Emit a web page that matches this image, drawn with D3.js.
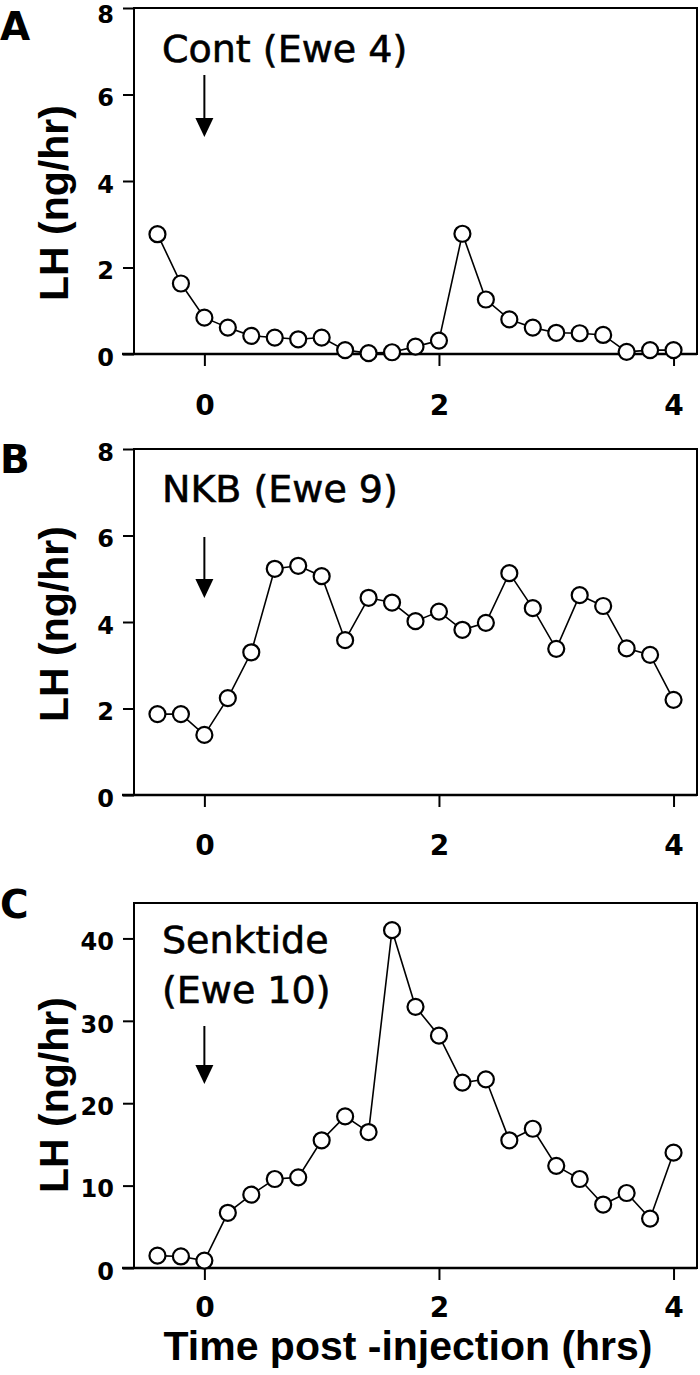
<!DOCTYPE html>
<html>
<head>
<meta charset="utf-8">
<script src="https://cdn.jsdelivr.net/npm/d3@7"></script>
<style>
  body { margin: 0; background: #fff; }
  svg { display: block; }
</style>
</head>
<body>
<svg id="chart"></svg>
<script>
// sampling times (hrs after injection)
const hours = [-0.4, -0.2, 0, 0.2, 0.4, 0.6, 0.8, 1.0, 1.2, 1.4, 1.6, 1.8,
               2.0, 2.2, 2.4, 2.6, 2.8, 3.0, 3.2, 3.4, 3.6, 3.8, 4.0];

// LH (ng/hr) per sample
const contLH = [2.77, 1.63, 0.84, 0.61, 0.42, 0.38, 0.34, 0.38, 0.09, 0.02, 0.04, 0.17,
                0.31, 2.78, 1.26, 0.80, 0.61, 0.49, 0.48, 0.44, 0.05, 0.09, 0.09];
const nkbLH = [1.87, 1.87, 1.39, 2.24, 3.30, 5.23, 5.30, 5.06, 3.58, 4.56, 4.45, 4.02,
               4.24, 3.82, 3.98, 5.13, 4.32, 3.38, 4.62, 4.37, 3.39, 3.24, 2.20];
const senktideLH = [1.5, 1.4, 0.9, 6.7, 8.9, 10.8, 11.0, 15.5, 18.4, 16.5, 41.0, 31.7,
                    28.2, 22.5, 22.9, 15.5, 16.9, 12.4, 10.8, 7.7, 9.1, 6.0, 14.0];

const xTicks = [0, 2, 4];
const yTicksLow = [0, 2, 4, 6, 8];
const yTicksHigh = [0, 10, 20, 30, 40];
const panelLetters = ["A", "B", "C"];
const treatmentLabels = [["Cont (Ewe 4)"], ["NKB (Ewe 9)"], ["Senktide", "(Ewe 10)"]];
const yTitle = "LH (ng/hr)";
const xTitle = "Time post -injection (hrs)";

const width = 700, height = 1375;
const left = 134, right = 697;

const svg = d3.select("#chart").attr("width", width).attr("height", height);

const x = d3.scaleLinear().domain([-0.6, 4.2]).range([left, right]);

// layout of the three stacked panels
const panels = [
  { values: contLH, yTicks: yTicksLow, yMax: 8, top: 8, bottom: 354,
    letterY: 40, labelY: [62], arrowY: [75, 137], tickLabelY: 405, titleY: 203 },
  { values: nkbLH, yTicks: yTicksLow, yMax: 8, top: 449, bottom: 795,
    letterY: 473, labelY: [502], arrowY: [537, 598], tickLabelY: 845, titleY: 624 },
  { values: senktideLH, yTicks: yTicksHigh, yMax: 44.3, top: 903, bottom: 1268,
    letterY: 918, labelY: [953, 1003], arrowY: [1026, 1084], tickLabelY: 1307, titleY: 1095 }
];

const boldFont = "'Liberation Sans', Arial, sans-serif";
const tickFont = "'DejaVu Sans', sans-serif";

panels.forEach((p, k) => {
  const y = d3.scaleLinear().domain([0, p.yMax]).range([p.bottom, p.top]);
  const g = svg.append("g");

  // box
  g.append("rect")
    .attr("x", left).attr("y", p.top)
    .attr("width", right - left).attr("height", p.bottom - p.top)
    .attr("fill", "none").attr("stroke", "#000").attr("stroke-width", 2);

  // bottom axis line runs a bit past the box on the left
  g.append("line")
    .attr("x1", left - 12).attr("x2", right)
    .attr("y1", p.bottom).attr("y2", p.bottom)
    .attr("stroke", "#000").attr("stroke-width", 2.5);

  // y axis
  const yAxis = g.append("g")
    .attr("transform", `translate(${left},0)`)
    .call(d3.axisLeft(y).tickValues(p.yTicks).tickSize(11).tickPadding(9).tickFormat(d3.format("d")));
  yAxis.select(".domain").remove();
  yAxis.selectAll("line").attr("stroke", "#000").attr("stroke-width", 2);
  yAxis.selectAll("text")
    // keep the topmost label inside the page
    .attr("dy", d => y(d) < 20 ? "0.62em" : "0.47em")
    .style("font-family", tickFont)
    .style("font-weight", "bold")
    .style("font-size", "24px")
    .attr("fill", "#000");

  // x axis
  const xAxis = g.append("g")
    .attr("transform", `translate(0,${p.bottom})`)
    .call(d3.axisBottom(x).tickValues(xTicks).tickSize(12).tickFormat(d3.format("d")));
  xAxis.select(".domain").remove();
  xAxis.selectAll("line").attr("stroke", "#000").attr("stroke-width", 2);
  xAxis.selectAll("text")
    .attr("y", p.tickLabelY - p.bottom)
    .attr("dy", "0.36em")
    .style("font-family", tickFont)
    .style("font-weight", "bold")
    .style("font-size", "28px")
    .attr("fill", "#000");

  // y title
  g.append("text")
    .attr("transform", `translate(68,${p.titleY}) rotate(-90)`)
    .attr("text-anchor", "middle")
    .style("font-family", boldFont)
    .style("font-weight", "bold")
    .style("font-size", "41px")
    .text(yTitle);

  // panel letter
  g.append("text")
    .attr("x", 0).attr("y", p.letterY)
    .style("font-family", tickFont)
    .style("font-weight", "bold")
    .style("font-size", "39px")
    .text(panelLetters[k]);

  // treatment label
  treatmentLabels[k].forEach((t, i) => {
    g.append("text")
      .attr("x", 162).attr("y", p.labelY[i])
      .style("font-family", tickFont)
      .style("font-size", "38px")
      .attr("stroke", "#000")
      .attr("stroke-width", 0.6)
      .text(t);
  });

  // injection arrow
  const ax = x(0);
  const headH = 19, headW = 9;
  g.append("line")
    .attr("x1", ax).attr("x2", ax)
    .attr("y1", p.arrowY[0]).attr("y2", p.arrowY[1] - headH + 2)
    .attr("stroke", "#000").attr("stroke-width", 2);
  g.append("path")
    .attr("d", `M${ax - headW},${p.arrowY[1] - headH}L${ax + headW},${p.arrowY[1] - headH}L${ax},${p.arrowY[1]}Z`)
    .attr("fill", "#000");

  // series
  const pts = hours.map((h, i) => ({ h, v: p.values[i] }));
  g.append("path")
    .datum(pts)
    .attr("fill", "none")
    .attr("stroke", "#000")
    .attr("stroke-width", 1.6)
    .attr("d", d3.line().x(d => x(d.h)).y(d => y(d.v)));

  g.selectAll(".pt")
    .data(pts)
    .enter()
    .append("circle")
    .attr("class", "pt")
    .attr("cx", d => x(d.h))
    .attr("cy", d => y(d.v))
    .attr("r", 8)
    .attr("fill", "#fff")
    .attr("stroke", "#000")
    .attr("stroke-width", 2.2);
});

// x title under the last panel
svg.append("text")
  .attr("x", 408).attr("y", 1360)
  .attr("text-anchor", "middle")
  .style("font-family", boldFont)
  .style("font-weight", "bold")
  .style("font-size", "41px")
  .text(xTitle);
</script>
</body>
</html>
